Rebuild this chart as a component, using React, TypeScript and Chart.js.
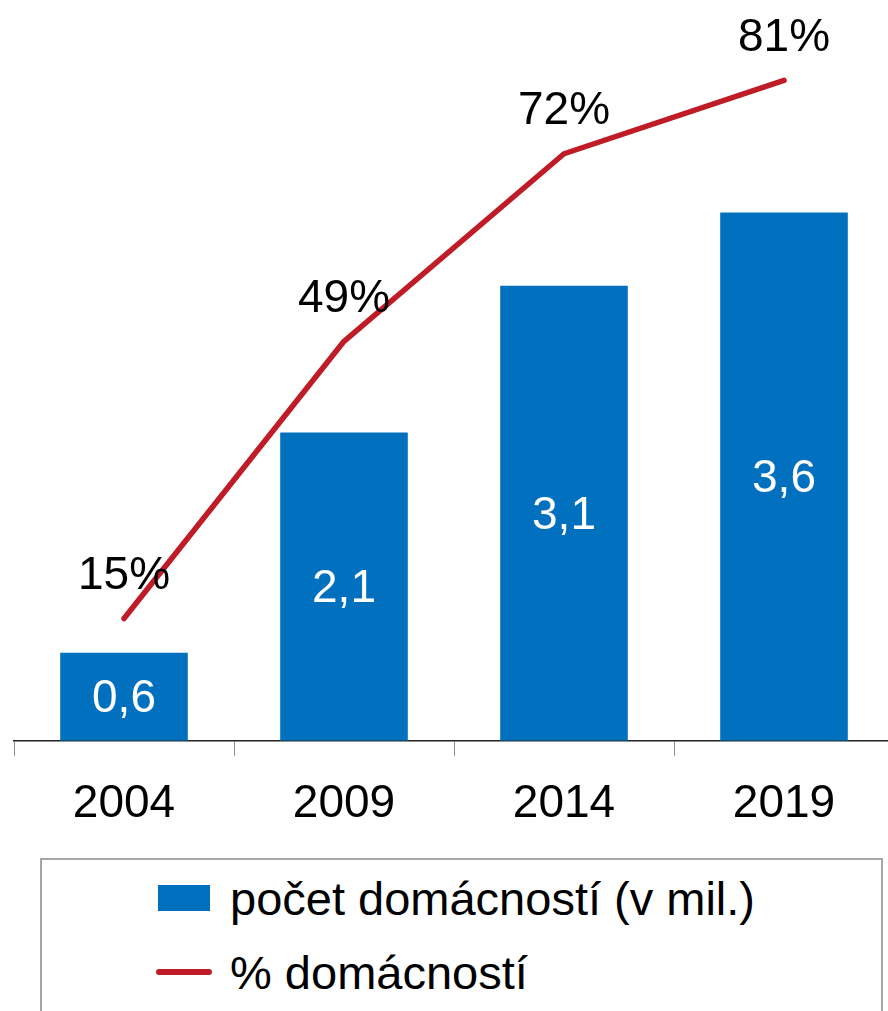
import React, { useEffect, useRef } from "react";
import { Chart, registerables } from "chart.js";

Chart.register(...registerables);

const categories = ["2004", "2009", "2014", "2019"];
const householdCounts = [0.6, 2.1, 3.1, 3.6];
const householdShares = [15, 49, 72, 81];
const barLabels = ["0,6", "2,1", "3,1", "3,6"];
const lineLabels = ["15%", "49%", "72%", "81%"];
const legendBarLabel = "počet domácností (v mil.)";
const legendLineLabel = "% domácností";

const BLUE = "#0070BF";
const RED = "#C01C28";
const FONT = "'Liberation Sans', Arial, sans-serif";

const valueLabelPlugin = {
  id: "valueLabels",
  afterDatasetsDraw(chart: any) {
    const ctx = chart.ctx;
    ctx.save();
    ctx.font = `46px ${FONT}`;
    ctx.textAlign = "center";
    ctx.textBaseline = "middle";
    const barMeta = chart.getDatasetMeta(0);
    barMeta.data.forEach((el: any, i: number) => {
      const { x, y, base } = el.getProps(["x", "y", "base"], true);
      ctx.fillStyle = "#ffffff";
      ctx.fillText(barLabels[i], x, (y + base) / 2 + 3);
    });
    const lineMeta = chart.getDatasetMeta(1);
    lineMeta.data.forEach((el: any, i: number) => {
      const { x, y } = el.getProps(["x", "y"], true);
      ctx.fillStyle = "#000000";
      ctx.fillText(lineLabels[i], x, y - 42);
    });
    ctx.restore();
  },
};

export default function App() {
  const canvasRef = useRef<HTMLCanvasElement | null>(null);

  useEffect(() => {
    if (!canvasRef.current) return;
    const chart = new Chart(canvasRef.current, {
      type: "bar",
      data: {
        labels: categories,
        datasets: [
          {
            type: "bar",
            label: legendBarLabel,
            data: householdCounts,
            backgroundColor: BLUE,
            borderWidth: 0,
            barPercentage: 0.58,
            categoryPercentage: 1,
            yAxisID: "y",
            order: 2,
          },
          {
            type: "line",
            label: legendLineLabel,
            data: householdShares,
            borderColor: RED,
            backgroundColor: RED,
            borderWidth: 5.5,
            borderCapStyle: "round",
            borderJoinStyle: "round",
            pointRadius: 0,
            tension: 0,
            yAxisID: "y1",
            order: 1,
          } as any,
        ],
      },
      options: {
        responsive: true,
        maintainAspectRatio: false,
        animation: false,
        layout: { padding: { top: 7, left: 14, right: 0, bottom: 0 } },
        plugins: {
          legend: { display: false },
          tooltip: { enabled: false },
        },
        scales: {
          x: {
            offset: true,
            grid: {
              display: true,
              offset: true,
              drawOnChartArea: false,
              drawTicks: true,
              tickLength: 15,
              color: "#8c8c8c",
              lineWidth: 1,
            },
            border: { display: true, color: "#222222", width: 1.5 },
            ticks: {
              color: "#000000",
              font: { family: FONT, size: 46 },
              padding: 21,
            },
          },
          y: {
            display: false,
            min: 0,
            max: 5,
          },
          y1: {
            display: false,
            min: 0,
            max: 90,
            position: "right",
          },
        },
      },
      plugins: [valueLabelPlugin],
    });
    return () => chart.destroy();
  }, []);

  return (
    <div
      style={{
        position: "absolute",
        left: 0,
        top: 0,
        width: 888,
        height: 1011,
        overflow: "hidden",
        background: "#ffffff",
        fontFamily: FONT,
      }}
    >
      <div style={{ position: "absolute", left: 0, top: 0, width: 894, height: 853 }}>
        <canvas ref={canvasRef} />
      </div>
      <div
        style={{
          position: "absolute",
          left: 40,
          top: 858,
          width: 839,
          height: 170,
          border: "2px solid #a6a6a6",
          boxSizing: "content-box",
        }}
      >
        <div style={{ position: "absolute", left: 116, top: 10, display: "flex", alignItems: "center", height: 56 }}>
          <div style={{ width: 52, height: 26, background: BLUE }} />
          <span style={{ marginLeft: 20, fontSize: 47, color: "#000", whiteSpace: "nowrap" }}>{legendBarLabel}</span>
        </div>
        <div style={{ position: "absolute", left: 116, top: 84, display: "flex", alignItems: "center", height: 56 }}>
          <div style={{ width: 56, height: 6, background: RED, borderRadius: 3, marginLeft: -2 }} />
          <span style={{ marginLeft: 18, fontSize: 47, color: "#000", whiteSpace: "nowrap" }}>{legendLineLabel}</span>
        </div>
      </div>
    </div>
  );
}
